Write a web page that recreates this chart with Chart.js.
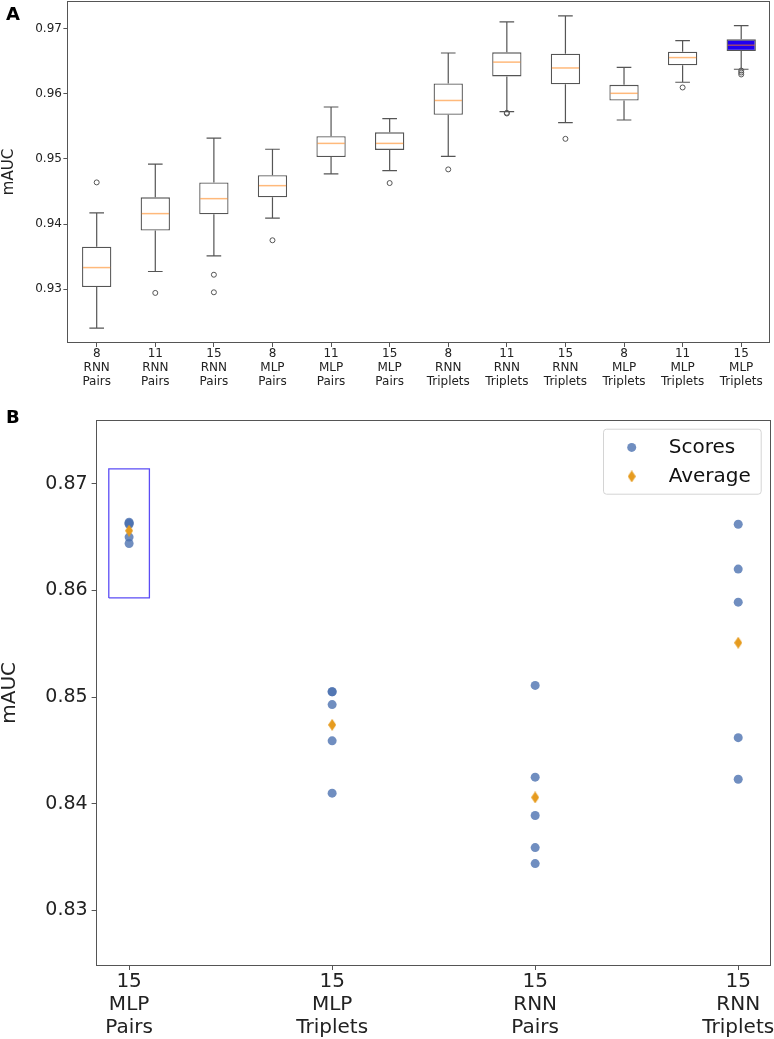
<!DOCTYPE html>
<html>
<head>
<meta charset="utf-8">
<script src="https://cdn.jsdelivr.net/npm/chart.js@4.4.0/dist/chart.umd.min.js"></script>
<style>
  body { margin: 0; background: #fff; }
  #wrap { position: relative; width: 774px; height: 1039px; }
  canvas { position: absolute; left: 0; }
  #chartA { top: 0; }
  #chartB { top: 392px; }
  .panel { position: absolute; font: bold 18px "DejaVu Sans", sans-serif; color: #000; }
</style>
</head>
<body>
<div id="wrap">
  <canvas id="chartA" width="774" height="392"></canvas>
  <canvas id="chartB" width="774" height="647"></canvas>
  <div class="panel" style="left:6px;top:3px">A</div>
  <div class="panel" style="left:6px;top:406px">B</div>
</div>
<script>
// panel A: box plots
const labelsA = [
  ['8', 'RNN', 'Pairs'], ['11', 'RNN', 'Pairs'], ['15', 'RNN', 'Pairs'],
  ['8', 'MLP', 'Pairs'], ['11', 'MLP', 'Pairs'], ['15', 'MLP', 'Pairs'],
  ['8', 'RNN', 'Triplets'], ['11', 'RNN', 'Triplets'], ['15', 'RNN', 'Triplets'],
  ['8', 'MLP', 'Triplets'], ['11', 'MLP', 'Triplets'], ['15', 'MLP', 'Triplets']
];
const whiskerLow  = [0.9240, 0.9327, 0.9351, 0.9409, 0.9477, 0.9482, 0.9504, 0.9573, 0.9556, 0.9560, 0.9618, 0.9638];
const q1          = [0.9303, 0.9390, 0.9415, 0.9441, 0.9503, 0.9514, 0.9568, 0.9627, 0.9615, 0.9590, 0.9644, 0.9666];
const medians     = [0.9333, 0.9416, 0.9439, 0.9459, 0.9524, 0.9524, 0.9590, 0.9649, 0.9640, 0.9601, 0.9656, 0.9675];
const q3          = [0.9365, 0.9441, 0.9464, 0.9475, 0.9535, 0.9541, 0.9616, 0.9664, 0.9662, 0.9614, 0.9665, 0.9684];
const whiskerHigh = [0.9417, 0.9492, 0.9532, 0.9515, 0.9580, 0.9562, 0.9663, 0.9711, 0.9720, 0.9641, 0.9682, 0.9705];
const outliersA = [
  [0.9464], [0.9294], [0.9322, 0.9295], [0.9375], [], [0.9463],
  [0.9484], [0.9571, 0.9570], [0.9531], [], [0.9610], [0.9636, 0.9633, 0.9630]
];
const yTicksA = [0.93, 0.94, 0.95, 0.96, 0.97];

// panel B: scores per model
const categoriesB = [['15', 'MLP', 'Pairs'], ['15', 'MLP', 'Triplets'], ['15', 'RNN', 'Pairs'], ['15', 'RNN', 'Triplets']];
const scoresMlpPairs    = [0.8664, 0.8663, 0.8662, 0.8650, 0.8644];
const scoresMlpTriplets = [0.8505, 0.8505, 0.8493, 0.8459, 0.8410];
const scoresRnnPairs    = [0.8511, 0.8425, 0.8389, 0.8359, 0.8344];
const scoresRnnTriplets = [0.8662, 0.8620, 0.8589, 0.8462, 0.8423];
const averagesB = [0.8656, 0.8474, 0.8406, 0.8551];
const yTicksB = [0.83, 0.84, 0.85, 0.86, 0.87];
const highlightX = [-0.1, 0.1];
const highlightY = [0.8593, 0.8714];

const FONT = '"DejaVu Sans", sans-serif';
const lineCol = '#555';
const scoreColor = 'rgba(76, 114, 176, 0.8)';
const avgColor = '#e69b1e';

Chart.defaults.font.family = FONT;
Chart.defaults.color = '#222';

// fixed axis boxes so the plot areas land where the reference has them
function fixSize(size) {
  return s => {
    if (s.isHorizontal()) s.height = size; else s.width = size;
    s.paddingTop = 0; s.paddingBottom = 0; s.paddingLeft = 0; s.paddingRight = 0;
  };
}

const frame = {
  id: 'frame',
  afterDatasetsDraw(chart) {
    const { ctx, chartArea: a } = chart;
    ctx.save();
    ctx.strokeStyle = lineCol;
    ctx.lineWidth = 1;
    ctx.strokeRect(Math.round(a.left) + 0.5, Math.round(a.top) + 0.5,
      Math.round(a.right - a.left) - 1, Math.round(a.bottom - a.top) - 1);
    ctx.restore();
  }
};

// whiskers, caps and medians on top of the bars
const boxParts = {
  id: 'boxParts',
  afterDatasetsDraw(chart) {
    const { ctx, scales: { x, y } } = chart;
    const half = x.getPixelForValue(1.25) - x.getPixelForValue(1);
    ctx.save();
    labelsA.forEach((_, i) => {
      const cx = x.getPixelForValue(i + 1);
      const hi = y.getPixelForValue(whiskerHigh[i]);
      const lo = y.getPixelForValue(whiskerLow[i]);
      ctx.strokeStyle = lineCol;
      ctx.lineWidth = 1.2;
      ctx.beginPath();
      ctx.moveTo(cx, y.getPixelForValue(q3[i]));
      ctx.lineTo(cx, hi);
      ctx.moveTo(cx, y.getPixelForValue(q1[i]));
      ctx.lineTo(cx, lo);
      ctx.moveTo(cx - half / 2, hi);
      ctx.lineTo(cx + half / 2, hi);
      ctx.moveTo(cx - half / 2, lo);
      ctx.lineTo(cx + half / 2, lo);
      ctx.stroke();
      const m = y.getPixelForValue(medians[i]);
      ctx.strokeStyle = 'rgba(255, 127, 14, 0.55)';
      ctx.lineWidth = 1.5;
      ctx.beginPath();
      ctx.moveTo(cx - half + 1, m);
      ctx.lineTo(cx + half - 1, m);
      ctx.stroke();
    });
    ctx.restore();
  }
};

new Chart(document.getElementById('chartA'), {
  type: 'bar',
  data: {
    datasets: [
      {
        type: 'scatter',
        data: outliersA.flatMap((vals, i) => vals.map(v => ({ x: i + 1, y: v }))),
        pointStyle: 'circle',
        pointRadius: 2.5,
        borderColor: lineCol,
        borderWidth: 1,
        backgroundColor: 'rgba(0,0,0,0)'
      },
      {
        data: labelsA.map((_, i) => ({ x: i + 1, y: [q1[i], q3[i]] })),
        backgroundColor: labelsA.map((_, i) => i === labelsA.length - 1 ? '#2000f0' : '#fff'),
        borderColor: lineCol,
        borderWidth: 1.3,
        borderSkipped: false,
        categoryPercentage: 1,
        barPercentage: 0.5
      }
    ]
  },
  options: {
    responsive: false,
    animation: false,
    events: [],
    layout: { autoPadding: false, padding: { top: 1, right: 3.5, left: 0, bottom: 0 } },
    plugins: { legend: { display: false }, tooltip: { enabled: false } },
    scales: {
      x: {
        type: 'linear', min: 0.5, max: 12.5, offset: false,
        afterBuildTicks: s => { s.ticks = labelsA.map((_, i) => ({ value: i + 1 })); },
        afterFit: fixSize(49),
        grid: { offset: false, drawOnChartArea: false, drawTicks: true, tickLength: 4, color: lineCol },
        border: { display: false },
        ticks: {
          callback: v => labelsA[Math.round(v) - 1],
          font: { size: 12, lineHeight: 1.17 },
          padding: 0, maxRotation: 0, autoSkip: false
        }
      },
      y: {
        min: 0.9217, max: 0.9743,
        afterBuildTicks: s => { s.ticks = yTicksA.map(v => ({ value: v })); },
        afterFit: fixSize(67.4),
        grid: { drawOnChartArea: false, drawTicks: true, tickLength: 4, color: lineCol },
        border: { display: false },
        ticks: { callback: v => v.toFixed(2), font: { size: 12 }, padding: 1.5 },
        title: { display: true, text: 'mAUC', font: { size: 15, lineHeight: 1.2 }, padding: { top: 0, bottom: 0 } }
      }
    }
  },
  plugins: [boxParts, frame]
});

// thin diamond marker for the averages
const diamond = document.createElement('canvas');
diamond.width = 8;
diamond.height = 12;
const dctx = diamond.getContext('2d');
dctx.fillStyle = avgColor;
dctx.beginPath();
dctx.moveTo(4, 0);
dctx.lineTo(8, 6);
dctx.lineTo(4, 12);
dctx.lineTo(0, 6);
dctx.closePath();
dctx.fill();

const legendB = {
  id: 'legendB',
  afterDraw(chart) {
    const { ctx, chartArea } = chart;
    const w = 157.7, h = 65;
    const left = chartArea.right - 10 - w, top = chartArea.top + 9;
    const names = chart.data.datasets.filter(d => d.label).map(d => d.label);
    ctx.save();
    ctx.fillStyle = 'rgba(255,255,255,0.8)';
    ctx.strokeStyle = '#d4d4d4';
    ctx.lineWidth = 1;
    ctx.beginPath();
    ctx.roundRect(left + 0.5, top + 0.5, w, h, 3);
    ctx.fill();
    ctx.stroke();
    ctx.fillStyle = scoreColor;
    ctx.beginPath();
    ctx.arc(left + 28.7, top + 18.7, 4.5, 0, Math.PI * 2);
    ctx.fill();
    ctx.drawImage(diamond, left + 28.7 - diamond.width / 2, top + 47.7 - diamond.height / 2);
    ctx.fillStyle = '#111';
    ctx.font = '20px ' + FONT;
    ctx.textBaseline = 'middle';
    ctx.fillText(names[1], left + 65.7, top + 18.7);
    ctx.fillText(names[0], left + 65.7, top + 47.7);
    ctx.restore();
  }
};

const scoresB = [scoresMlpPairs, scoresMlpTriplets, scoresRnnPairs, scoresRnnTriplets];

new Chart(document.getElementById('chartB'), {
  type: 'scatter',
  data: {
    datasets: [
      {
        label: 'Average',
        order: 0,
        data: averagesB.map((v, i) => ({ x: i, y: v })),
        pointStyle: diamond,
        pointRadius: 6
      },
      {
        label: 'Scores',
        order: 1,
        data: scoresB.flatMap((vals, i) => vals.map(v => ({ x: i, y: v }))),
        pointStyle: 'circle',
        pointRadius: 4.5,
        borderWidth: 0,
        backgroundColor: scoreColor
      },
      {
        order: 2,
        data: [
          { x: highlightX[0], y: highlightY[0] }, { x: highlightX[1], y: highlightY[0] },
          { x: highlightX[1], y: highlightY[1] }, { x: highlightX[0], y: highlightY[1] },
          { x: highlightX[0], y: highlightY[0] }
        ],
        showLine: true,
        fill: false,
        borderColor: '#5b4cf5',
        borderWidth: 1.3,
        pointRadius: 0
      }
    ]
  },
  options: {
    responsive: false,
    animation: false,
    events: [],
    layout: { autoPadding: false, padding: { top: 27.7, right: 3.3, left: 0, bottom: 0 } },
    plugins: { legend: { display: false }, tooltip: { enabled: false } },
    scales: {
      x: {
        type: 'linear', min: -0.165, max: 3.16,
        afterBuildTicks: s => { s.ticks = categoriesB.map((_, i) => ({ value: i })); },
        afterFit: fixSize(73),
        grid: { drawOnChartArea: false, drawTicks: true, tickLength: 4, color: lineCol },
        border: { display: false },
        ticks: {
          callback: v => categoriesB[Math.round(v)],
          font: { size: 20, lineHeight: 1.15 },
          padding: 0, maxRotation: 0, autoSkip: false
        }
      },
      y: {
        min: 0.8248, max: 0.876,
        afterBuildTicks: s => { s.ticks = yTicksB.map(v => ({ value: v })); },
        afterFit: fixSize(95.6),
        grid: { drawOnChartArea: false, drawTicks: true, tickLength: 4, color: lineCol },
        border: { display: false },
        ticks: { callback: v => v.toFixed(2), font: { size: 19 }, padding: 4 },
        title: { display: true, text: 'mAUC', font: { size: 20, lineHeight: 1 }, padding: { top: 0, bottom: 0 } }
      }
    }
  },
  plugins: [frame, legendB]
});
</script>
</body>
</html>
